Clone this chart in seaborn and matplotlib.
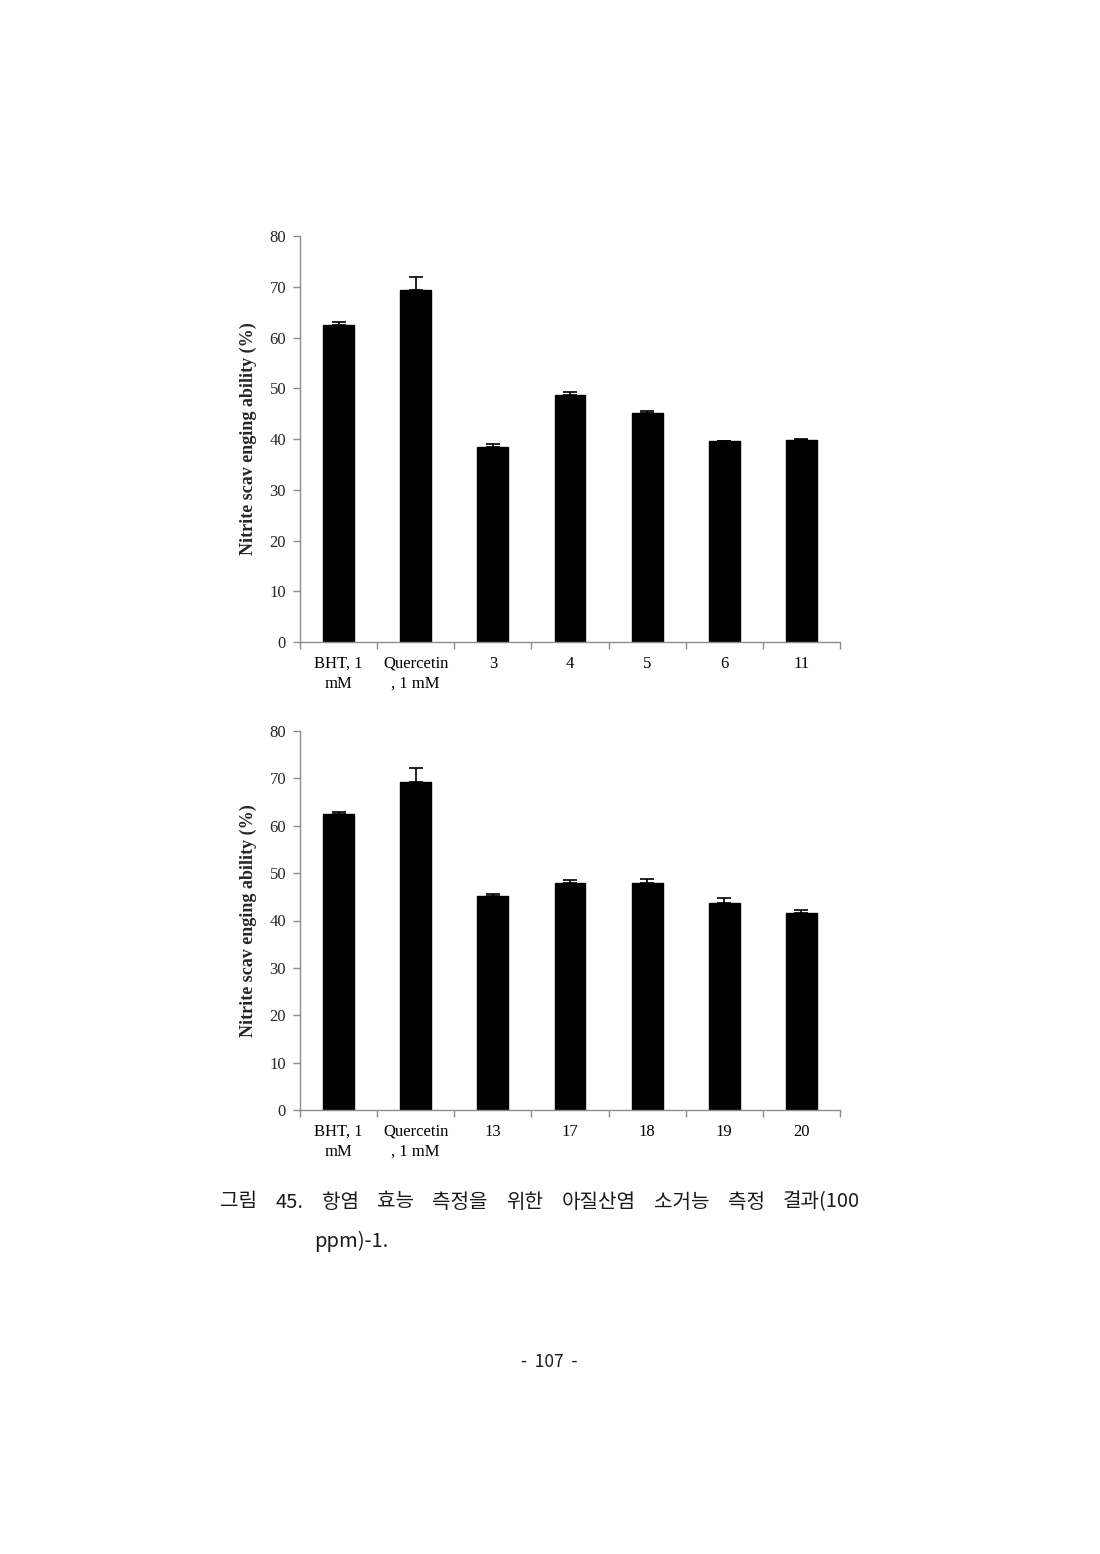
import numpy as np
import pandas as pd
import matplotlib
matplotlib.use("Agg")
import matplotlib.pyplot as plt
import seaborn as sns

# =====================================================
# DATA
# =====================================================

top_labels = ["BHT, 1\nmM", "Quercetin\n, 1 mM", "3", "4", "5", "6", "11"]
top_values = [62.5, 69.3, 38.5, 48.7, 45.1, 39.6, 39.8]
top_errors = [0.5, 2.7, 0.5, 0.5, 0.5, 0.0, 0.2]

bottom_labels = ["BHT, 1\nmM", "Quercetin\n, 1 mM", "13", "17", "18", "19", "20"]
bottom_values = [62.5, 69.3, 45.1, 48.0, 48.0, 43.6, 41.5]
bottom_errors = [0.5, 2.8, 0.5, 0.5, 0.8, 1.1, 0.8]

y_ticks = [0, 10, 20, 30, 40, 50, 60, 70, 80]
y_label = "Nitrite scav enging ability (%)"

# caption line 1 is justified between x=220 and x=860 px in the source
caption_words = ["그림", "45.", "항염", "효능", "측정을", "위한",
                 "아질산염", "소거능", "측정", "결과(100"]
caption_2 = "ppm)-1."
page_no = "-  107  -"

# =====================================================
# STYLE
# =====================================================

sns.set_theme(style="white")
plt.rcParams["font.family"] = ["Liberation Serif", "DejaVu Serif"]

W, H = 1100, 1554
fig = plt.figure(figsize=(W / 100, H / 100), dpi=100)
fig.patch.set_facecolor("white")

axis_grey = "#8c8c8c"


def draw_panel(rect, labels, values, errors):
    ax = fig.add_axes(rect)
    df = pd.DataFrame({"label": labels, "value": values})
    sns.barplot(data=df, x="label", y="value", color="black",
                width=0.40, saturation=1, edgecolor="black", ax=ax)
    pos = np.arange(len(values))
    ax.errorbar(pos, values, yerr=[np.zeros(len(errors)), errors],
                fmt="none", ecolor="black", elinewidth=1.2,
                capsize=5, capthick=1.2)

    ax.set_ylim(0, 80)
    ax.set_yticks(y_ticks)
    ax.set_xlim(-0.5, len(values) - 0.5)
    ax.set_xlabel("")
    ax.set_ylabel(y_label, fontsize=13, fontweight="bold", labelpad=9)

    # tick marks sit between the categories
    ax.set_xticks(np.arange(-0.5, len(values)), minor=True)
    ax.tick_params(axis="x", which="major", length=0, labelsize=12,
                   pad=10, colors="black")
    ax.tick_params(axis="x", which="minor", length=5, width=1,
                   direction="out", color=axis_grey, bottom=True)
    ax.tick_params(axis="y", length=5, width=1, direction="out",
                   color=axis_grey, labelsize=12, left=True, pad=5)
    for t in ax.get_xticklabels():
        t.set_linespacing(1.35)

    for side in ["top", "right"]:
        ax.spines[side].set_visible(False)
    for side in ["left", "bottom"]:
        ax.spines[side].set_color(axis_grey)
        ax.spines[side].set_linewidth(1)
    ax.set_facecolor("white")
    return ax


# axes boxes: x 300-840 px, top panel y 236-642 px, bottom panel y 731-1110 px
draw_panel([300 / W, 1 - 642 / H, 540 / W, 406 / H],
           top_labels, top_values, top_errors)
draw_panel([300 / W, 1 - 1110 / H, 540 / W, 379 / H],
           bottom_labels, bottom_values, bottom_errors)

# =====================================================
# CAPTION AND PAGE NUMBER
# =====================================================

cjk = ["Noto Sans CJK KR", "DejaVu Sans"]
cap_style = dict(fontsize=14.5, family=cjk, va="center", ha="left",
                 color="#1a1a1a")

# justify line 1: measure the words, then spread the gaps evenly
renderer = fig.canvas.get_renderer()
words = [fig.text(0, 1 - 1202 / H, w, **cap_style) for w in caption_words]
widths = [t.get_window_extent(renderer).width for t in words]
left, right = 220, 860
gap = (right - left - sum(widths)) / (len(words) - 1)
x = left
for t, w in zip(words, widths):
    t.set_x(x / W)
    x += w + gap

fig.text(314 / W, 1 - 1241 / H, caption_2, **cap_style)
fig.text(549 / W, 1 - 1362 / H, page_no, fontsize=12.5,
         family=cjk, va="center", ha="center", color="#1a1a1a")

fig.savefig("out.png", dpi=100, facecolor="white")
plt.close(fig)
